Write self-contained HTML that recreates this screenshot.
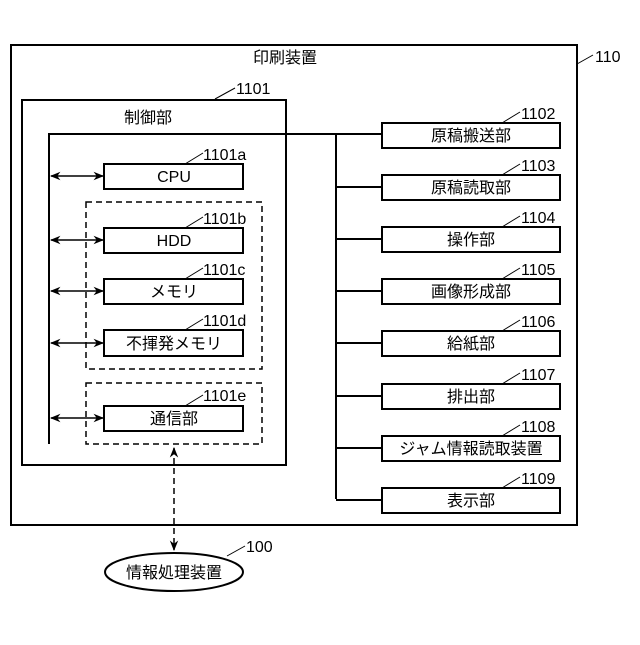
<!DOCTYPE html>
<html><head><meta charset="utf-8"><style>
html,body{margin:0;padding:0;background:#fff;}
svg text{font-family:"Liberation Sans","Noto Sans CJK JP",sans-serif;fill:#000;}
</style></head><body>
<svg width="640" height="640" viewBox="0 0 640 640" xmlns="http://www.w3.org/2000/svg">
<defs>
<marker id="a" viewBox="0 0 10 10" refX="9" refY="5" markerWidth="7" markerHeight="7" orient="auto-start-reverse"><path d="M0,1 L10,5 L0,9 L3,5 Z" fill="#000"/></marker>
</defs>
<g fill="none" stroke="#000" stroke-width="2">
<rect x="11" y="45" width="566" height="480"/>
<rect x="22" y="100" width="264" height="365"/>
<line x1="49" y1="134" x2="49" y2="444"/>
<line x1="48" y1="134" x2="382" y2="134"/>
<line x1="336" y1="134" x2="336" y2="499"/>
<rect x="382" y="123" width="178" height="25"/>
<rect x="382" y="175" width="178" height="25"/>
<rect x="382" y="227" width="178" height="25"/>
<rect x="382" y="279" width="178" height="25"/>
<rect x="382" y="331" width="178" height="25"/>
<rect x="382" y="384" width="178" height="25"/>
<rect x="382" y="436" width="178" height="25"/>
<rect x="382" y="488" width="178" height="25"/>
<line x1="336" y1="187" x2="382" y2="187"/>
<line x1="336" y1="239" x2="382" y2="239"/>
<line x1="336" y1="291" x2="382" y2="291"/>
<line x1="336" y1="343" x2="382" y2="343"/>
<line x1="336" y1="396" x2="382" y2="396"/>
<line x1="336" y1="448" x2="382" y2="448"/>
<line x1="336" y1="500" x2="382" y2="500"/>
<rect x="104" y="164" width="139" height="25"/>
<rect x="104" y="228" width="139" height="25"/>
<rect x="104" y="279" width="139" height="25"/>
<rect x="104" y="330" width="139" height="26"/>
<rect x="104" y="406" width="139" height="25"/>
<ellipse cx="174" cy="572" rx="69" ry="19"/>
</g>
<g fill="none" stroke="#000" stroke-width="1.5" stroke-dasharray="6,4">
<rect x="86" y="202" width="176" height="167"/>
<rect x="86" y="383" width="176" height="61"/>
<line x1="174" y1="448" x2="174" y2="550" marker-start="url(#a)" marker-end="url(#a)"/>
</g>
<g stroke="#000" stroke-width="1.5" fill="none">
<line x1="51" y1="176" x2="103" y2="176" marker-start="url(#a)" marker-end="url(#a)"/>
<line x1="51" y1="240" x2="103" y2="240" marker-start="url(#a)" marker-end="url(#a)"/>
<line x1="51" y1="291" x2="103" y2="291" marker-start="url(#a)" marker-end="url(#a)"/>
<line x1="51" y1="343" x2="103" y2="343" marker-start="url(#a)" marker-end="url(#a)"/>
<line x1="51" y1="418" x2="103" y2="418" marker-start="url(#a)" marker-end="url(#a)"/>
</g>
<g stroke="#000" stroke-width="1" fill="none">
<line x1="577" y1="64" x2="593" y2="55"/>
<line x1="215" y1="99" x2="235" y2="88"/>
<line x1="185" y1="164" x2="203" y2="153"/>
<line x1="185" y1="228" x2="203" y2="217"/>
<line x1="185" y1="279" x2="203" y2="268"/>
<line x1="185" y1="330" x2="203" y2="319"/>
<line x1="185" y1="406" x2="203" y2="395"/>
<line x1="502" y1="123" x2="520" y2="112"/>
<line x1="502" y1="175" x2="520" y2="164"/>
<line x1="502" y1="227" x2="520" y2="216"/>
<line x1="502" y1="279" x2="520" y2="268"/>
<line x1="502" y1="331" x2="520" y2="320"/>
<line x1="502" y1="384" x2="520" y2="373"/>
<line x1="502" y1="436" x2="520" y2="425"/>
<line x1="502" y1="488" x2="520" y2="477"/>
<line x1="227" y1="556" x2="245" y2="546"/>
</g>
<g font-size="16">
<text x="285" y="63" text-anchor="middle">印刷装置</text>
<text x="595" y="62">110</text>
<text x="236" y="94">1101</text>
<text x="148" y="123" text-anchor="middle">制御部</text>
<text x="203" y="160">1101a</text>
<text x="203" y="224">1101b</text>
<text x="203" y="275">1101c</text>
<text x="203" y="326">1101d</text>
<text x="203" y="401">1101e</text>
<text x="174" y="182" text-anchor="middle">CPU</text>
<text x="174" y="246" text-anchor="middle">HDD</text>
<text x="174" y="297" text-anchor="middle">メモリ</text>
<text x="174" y="349" text-anchor="middle">不揮発メモリ</text>
<text x="174" y="424" text-anchor="middle">通信部</text>
<text x="521" y="119">1102</text>
<text x="521" y="171">1103</text>
<text x="521" y="223">1104</text>
<text x="521" y="275">1105</text>
<text x="521" y="327">1106</text>
<text x="521" y="380">1107</text>
<text x="521" y="432">1108</text>
<text x="521" y="484">1109</text>
<text x="471" y="141" text-anchor="middle">原稿搬送部</text>
<text x="471" y="193" text-anchor="middle">原稿読取部</text>
<text x="471" y="245" text-anchor="middle">操作部</text>
<text x="471" y="297" text-anchor="middle">画像形成部</text>
<text x="471" y="349" text-anchor="middle">給紙部</text>
<text x="471" y="402" text-anchor="middle">排出部</text>
<text x="471" y="454" text-anchor="middle">ジャム情報読取装置</text>
<text x="471" y="506" text-anchor="middle">表示部</text>
<text x="246" y="552">100</text>
<text x="174" y="578" text-anchor="middle">情報処理装置</text>
</g>
</svg>
</body></html>
